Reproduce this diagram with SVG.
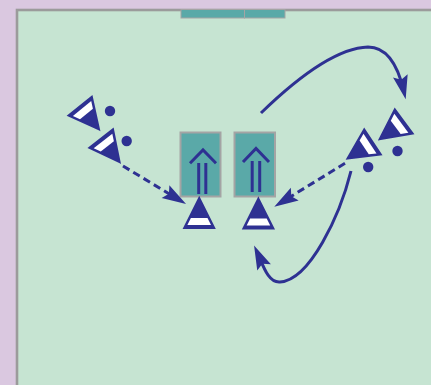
<svg xmlns="http://www.w3.org/2000/svg" width="431" height="385" viewBox="0 0 431 385">
  <style>
    .field { fill: #c6e4d2; stroke: #9b9b9b; stroke-width: 2.6; }
    .goal { fill: #5aa9a8; stroke: #a4a4a4; stroke-width: 1; }
    .box { fill: #5aa9a8; stroke: #a4a4a4; stroke-width: 2; }
    .mark { fill: none; stroke: #2e3192; stroke-width: 3; stroke-linejoin: miter; }
    .dot { fill: #2e3192; }
    .run { fill: none; stroke: #2e3192; stroke-width: 3; }
    .pass { fill: none; stroke: #2e3192; stroke-width: 3; stroke-dasharray: 7.5 4.5; }
  </style>
  <defs>
    <!-- player: apex points the way the player faces -->
    <g id="player">
      <polygon points="0,-15 15,15 -15,15" fill="#2e3192" stroke="#2e3192" stroke-width="2" stroke-linejoin="miter"/>
      <polygon points="-8.3,5 8.3,5 11.8,12 -11.8,12" fill="#ffffff"/>
    </g>
    <marker id="head" markerUnits="userSpaceOnUse" markerWidth="40" markerHeight="40" refX="0" refY="0" orient="auto" overflow="visible">
      <path d="M8,0 L-16,-7.5 L-12,0 L-16,7.5 Z" fill="#2e3192"/>
    </marker>
  </defs>

  <!-- surround and pitch -->
  <rect x="0" y="0" width="431" height="385" fill="#dac8e0"/>
  <rect class="field" x="17" y="10" width="430" height="390"/>

  <!-- goal -->
  <g id="goal">
    <rect class="goal" x="181" y="9.5" width="63.5" height="8.5"/>
    <rect class="goal" x="244.5" y="9.5" width="40.5" height="8.5"/>
  </g>

  <!-- mannequin boards -->
  <g id="board1">
    <rect class="box" x="180.5" y="132.5" width="40" height="64"/>
    <polyline class="mark" points="190,163.2 203,150 216,163.2"/>
    <line class="mark" x1="198.7" y1="163" x2="198.7" y2="194"/>
    <line class="mark" x1="205.8" y1="163" x2="205.8" y2="194"/>
  </g>
  <g id="board2">
    <rect class="box" x="234.5" y="132.5" width="40.5" height="64"/>
    <polyline class="mark" points="243,162 256,148.5 269,162"/>
    <line class="mark" x1="252.2" y1="161" x2="252.2" y2="192"/>
    <line class="mark" x1="259.7" y1="161" x2="259.7" y2="192"/>
  </g>

  <!-- connectors -->
  <g id="connectors">
    <path class="pass" d="M123,166 L179.2,199.9" marker-end="url(#head)"/>
    <path class="pass" d="M345,163.3 L281.1,202.5" marker-end="url(#head)"/>
    <path class="run" d="M261,113 C295,80 335,48 368,47 C390,47 399,70 403.9,91.5" marker-end="url(#head)"/>
    <path class="run" d="M351,171 C340,215 310,280 280,282 C268,283 263,265 257.4,252.8" marker-end="url(#head)"/>
  </g>

  <!-- players -->
  <g id="playerA">
    <use href="#player" transform="translate(89.6,117.8) rotate(141)"/>
    <circle class="dot" cx="110" cy="111" r="5.2"/>
  </g>
  <g id="playerB">
    <use href="#player" transform="translate(110.4,150.4) rotate(142)"/>
    <circle class="dot" cx="126.7" cy="141" r="5.2"/>
  </g>
  <g id="playerC">
    <use href="#player" transform="translate(391.7,130.3) rotate(233.5)"/>
    <circle class="dot" cx="397.5" cy="151" r="5.2"/>
  </g>
  <g id="playerD">
    <use href="#player" transform="translate(360,150.2) rotate(236.5)"/>
    <circle class="dot" cx="368.2" cy="167" r="5.2"/>
  </g>
  <g id="playerE">
    <use href="#player" transform="translate(199.2,213)"/>
  </g>
  <g id="playerF">
    <use href="#player" transform="translate(258.4,213.6)"/>
  </g>
</svg>
